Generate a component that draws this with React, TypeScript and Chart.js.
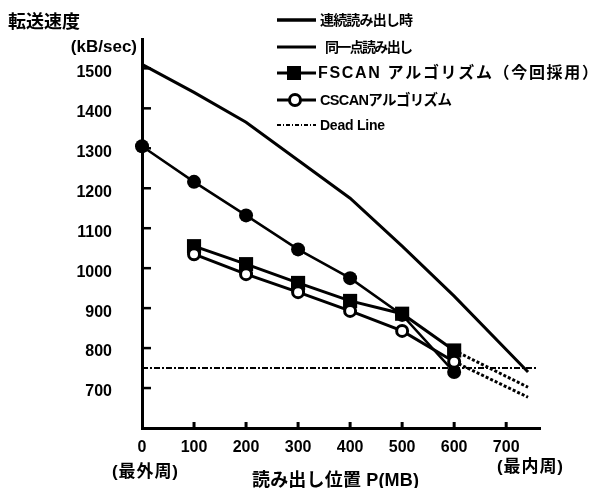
import React, { useEffect, useRef } from "react";
import { Chart, registerables } from "chart.js";

Chart.register(...registerables);

// ---- data ----
const yTicks = [700, 800, 900, 1000, 1100, 1200, 1300, 1400, 1500];
const xTicks = [0, 100, 200, 300, 400, 500, 600, 700];

const contPos = [0, 100, 200, 300, 400, 500, 600, 742];
const contRate = [1510, 1440, 1365, 1270, 1175, 1055, 930, 740];

const samePos = [0, 100, 200, 300, 400, 500, 600];
const sameRate = [1305, 1216, 1132, 1047, 975, 883, 740];

const scanPos = [100, 200, 300, 400, 500, 600];
const fscanRate = [1055, 1010, 963, 918, 886, 794];
const cscanRate = [1035, 985, 940, 893, 843, 766];

const extPos = [600, 742];
const fscanExt = [794, 702];
const cscanExt = [766, 677];

const deadPos = [0, 760];
const deadRate = [750, 750];

const legendLabels = [
  "連続読み出し時",
  "同一点読み出し",
  "FSCAN アルゴリズム（今回採用）",
  "CSCANアルゴリズム",
  "Dead Line",
];
const yTitle = "転送速度";
const yUnit = "(kB/sec)";
const xTitle = "読み出し位置 P(MB)";
const xLeftNote = "(最外周)";
const xRightNote = "(最内周)";

const LATIN = '"Liberation Sans", "Noto Sans CJK JP", sans-serif';

const pts = (xs: number[], ys: number[]) => xs.map((x, i) => ({ x, y: ys[i] }));

function fitText(ctx: any, text: string, x: number, y: number, target: number) {
  const n = Array.from(text).length;
  const hasLS = "letterSpacing" in ctx;
  if (hasLS) ctx.letterSpacing = "0px";
  const w = ctx.measureText(text).width;
  if (hasLS && n > 1) {
    const ls = (target - w) / (n - 1);
    ctx.letterSpacing = ls.toFixed(2) + "px";
    ctx.fillText(text, x, y);
    ctx.letterSpacing = "0px";
  } else {
    ctx.fillText(text, x, y, target);
  }
}

const decor = {
  id: "decor",
  afterDraw(chart: any) {
    const { ctx, chartArea, scales } = chart;
    const xs = scales.x;
    const ys = scales.y;
    ctx.save();
    ctx.strokeStyle = "#000";
    ctx.fillStyle = "#000";
    ctx.lineCap = "butt";
    // inward ticks
    ctx.lineWidth = 2.5;
    yTicks.forEach((v) => {
      const py = ys.getPixelForValue(v);
      ctx.beginPath();
      ctx.moveTo(chartArea.left, py);
      ctx.lineTo(chartArea.left + 9, py);
      ctx.stroke();
    });
    ctx.lineWidth = 3;
    xTicks.forEach((v) => {
      if (v === 0) return;
      const px = xs.getPixelForValue(v);
      ctx.beginPath();
      ctx.moveTo(px, chartArea.bottom);
      ctx.lineTo(px, chartArea.bottom - 6);
      ctx.stroke();
    });

    // titles
    ctx.textBaseline = "middle";
    ctx.textAlign = "left";
    ctx.font = 'bold 18px "Noto Sans CJK JP", sans-serif';
    ctx.fillText(yTitle, 8, 21);
    ctx.textAlign = "right";
    ctx.font = "bold 17px " + LATIN;
    ctx.fillText(yUnit, 137, 47);
    ctx.textAlign = "left";
    ctx.font = "bold 17px " + LATIN;
    fitText(ctx, xLeftNote, 112, 472, 66);
    fitText(ctx, xRightNote, 497, 467, 66);
    ctx.font = "bold 18px " + LATIN;
    fitText(ctx, xTitle, 252, 481, 167);

    // legend
    const rows = [20, 47, 73, 100, 125];
    const textX = [320, 325, 318, 320, 320];
    const textW = [93, 88, 280, 132, 65];
    const textSize = [14, 14, 16, 14.5, 14];
    const x1 = 277;
    const x2 = 316;
    ctx.textAlign = "left";
    rows.forEach((ry, i) => {
      ctx.save();
      ctx.strokeStyle = "#000";
      ctx.fillStyle = "#000";
      ctx.lineWidth = i === 0 ? 3.5 : i === 4 ? 2 : 3;
      if (i === 4) ctx.setLineDash([4, 2, 1, 2]);
      ctx.beginPath();
      ctx.moveTo(x1, ry);
      ctx.lineTo(x2, ry);
      ctx.stroke();
      ctx.setLineDash([]);
      if (i === 2) {
        ctx.fillRect(287, ry - 7, 14, 14);
      }
      if (i === 3) {
        ctx.beginPath();
        ctx.arc(295, ry, 5.5, 0, Math.PI * 2);
        ctx.fillStyle = "#fff";
        ctx.fill();
        ctx.lineWidth = 3;
        ctx.stroke();
      }
      ctx.restore();
      ctx.font = "bold " + textSize[i] + "px " + LATIN;
      fitText(ctx, legendLabels[i], textX[i], ry + 1, textW[i]);
    });
    ctx.restore();
  },
};

export default function App() {
  const ref = useRef<HTMLCanvasElement | null>(null);

  useEffect(() => {
    if (!ref.current) return;
    const chart = new Chart(ref.current, {
      type: "line",
      data: {
        datasets: [
          {
            label: legendLabels[3],
            data: pts(scanPos, cscanRate),
            borderColor: "#000",
            borderWidth: 3,
            pointStyle: "circle",
            pointRadius: 5.5,
            pointBorderWidth: 3,
            pointBackgroundColor: "#fff",
            pointBorderColor: "#000",
            clip: false,
          },
          {
            label: legendLabels[2],
            data: pts(scanPos, fscanRate),
            borderColor: "#000",
            borderWidth: 3,
            pointStyle: "rect",
            pointRadius: 10,
            pointBorderWidth: 0,
            pointBackgroundColor: "#000",
            pointBorderColor: "#000",
            clip: false,
          },
          {
            label: legendLabels[1],
            data: pts(samePos, sameRate),
            borderColor: "#000",
            borderWidth: 2.5,
            pointStyle: "circle",
            pointRadius: 7,
            pointBorderWidth: 0,
            pointBackgroundColor: "#000",
            clip: false,
          },
          {
            label: legendLabels[0],
            data: pts(contPos, contRate),
            borderColor: "#000",
            borderWidth: 3,
            pointRadius: 0,
            clip: false,
          },
          {
            label: "FSCAN ext",
            data: pts(extPos, fscanExt),
            borderColor: "#000",
            borderWidth: 3,
            borderDash: [3, 2],
            pointRadius: 0,
            clip: false,
          },
          {
            label: "CSCAN ext",
            data: pts(extPos, cscanExt),
            borderColor: "#000",
            borderWidth: 3,
            borderDash: [3, 2],
            pointRadius: 0,
            clip: false,
          },
          {
            label: legendLabels[4],
            data: pts(deadPos, deadRate),
            borderColor: "#000",
            borderWidth: 2,
            borderDash: [6, 2, 2, 2],
            pointRadius: 0,
            clip: false,
          },
        ],
      },
      options: {
        responsive: false,
        animation: false,
        devicePixelRatio: 1,
        layout: { padding: { top: 37, right: 60, left: 0, bottom: 0 } },
        plugins: {
          legend: { display: false },
          tooltip: { enabled: false },
          title: { display: false },
        },
        elements: { line: { tension: 0 } },
        scales: {
          x: {
            type: "linear",
            min: 0,
            max: 765,
            grid: { display: false, drawTicks: false },
            border: { display: true, color: "#000", width: 3 },
            afterBuildTicks: (s: any) => {
              s.ticks = xTicks.map((v) => ({ value: v }));
            },
            afterFit: (s: any) => {
              s.height = 60;
            },
            ticks: {
              color: "#000",
              padding: 10,
              maxRotation: 0,
              autoSkip: false,
              font: { family: LATIN, size: 16, weight: "bold" },
              callback: (v: any) => String(v),
            },
          },
          y: {
            type: "linear",
            min: 600,
            max: 1572,
            grid: { display: false, drawTicks: false },
            border: { display: true, color: "#000", width: 3 },
            afterBuildTicks: (s: any) => {
              s.ticks = yTicks.map((v) => ({ value: v }));
            },
            afterFit: (s: any) => {
              s.width = 142;
            },
            ticks: {
              color: "#000",
              padding: 30,
              labelOffset: 4,
              autoSkip: false,
              font: { family: LATIN, size: 16, weight: "bold" },
              callback: (v: any) => String(v),
            },
          },
        },
      },
      plugins: [decor],
    } as any);
    return () => chart.destroy();
  }, []);

  return (
    <div style={{ position: "absolute", left: 0, top: 0, width: 600, height: 488, background: "#fff" }}>
      <canvas ref={ref} width={600} height={488} style={{ display: "block", width: 600, height: 488 }} />
    </div>
  );
}
